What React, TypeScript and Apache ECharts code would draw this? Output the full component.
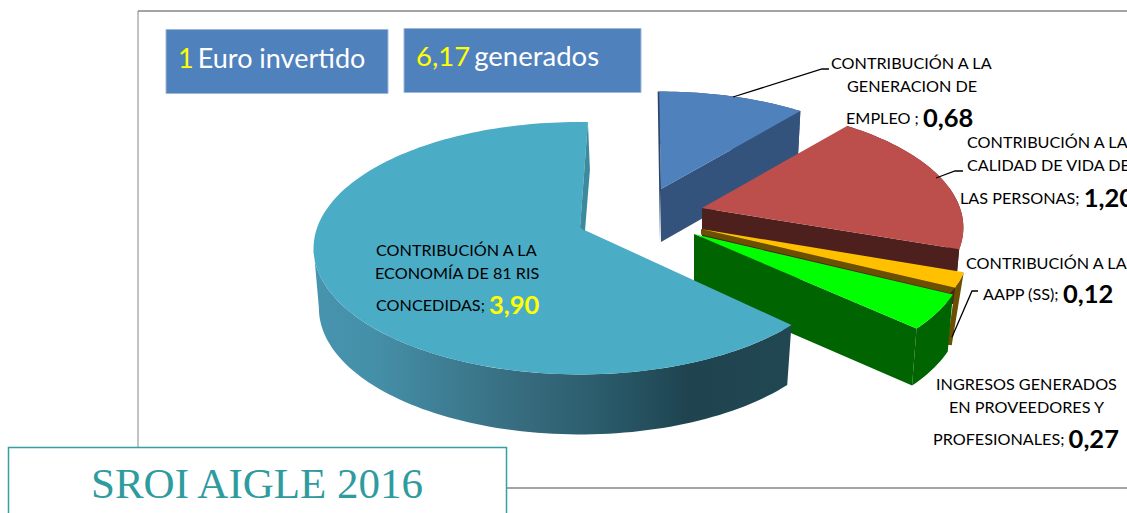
import React, { useEffect, useRef } from "react";
import * as echarts from "echarts";

const sliceNames = [
  "CONTRIBUCIÓN A LA GENERACION DE EMPLEO",
  "CONTRIBUCIÓN A LA CALIDAD DE VIDA DE LAS PERSONAS",
  "CONTRIBUCIÓN A LAS AAPP (SS)",
  "INGRESOS GENERADOS EN PROVEEDORES Y PROFESIONALES",
  "CONTRIBUCIÓN A LA ECONOMÍA DE 81 RIS CONCEDIDAS",
];
const sliceValues = [0.68, 1.2, 0.12, 0.27, 3.9];
const valueLabels = ["0,68", "1,20", "0,12", "0,27", "3,90"];
const plainLines = [
  ["CONTRIBUCIÓN A LA", "GENERACION DE"],
  ["CONTRIBUCIÓN A LA", "CALIDAD DE VIDA DE"],
  ["CONTRIBUCIÓN A LAS"],
  ["INGRESOS GENERADOS", "EN PROVEEDORES Y"],
  ["CONTRIBUCIÓN A LA", "ECONOMÍA DE 81 RIS"],
];
const lastLines = ["EMPLEO ; ", "LAS PERSONAS; ", "AAPP (SS); ", "PROFESIONALES; ", "CONCEDIDAS; "];
const titleText = "SROI AIGLE 2016";

const PERSPECTIVE = 0.16;
const FONT = "Lato";
const LABEL_SIZE = 16.2;
const VALUE_SIZE = 25.5;

// Per-slice look of the 3D pie (explosion centre, radii, rim colours)
const looks = [
  { cx: 661, cy: 189, rx: 248, ry: 113, depth: 53, rot: -0.5, top: "#4f81bd", wall: "#34537c", endWall: true, sliver: "#2c466a", sOff: [[-1.5, 0], [-1, 53]] },
  { cx: 702, cy: 208, rx: 258, ry: 119, depth: 55, rot: -0.5, top: "#bc4f4c", wall: "#4d1f1d", endWall: true },
  { cx: 701, cy: 229, rx: 264, ry: 121.5, depth: 5.5, rot: 0, top: "#ffc000", wall: "#6a5000", endWall: true, outerShift: [[-12, 73], [-8, 57]] },
  { cx: 694, cy: 234, rx: 269, ry: 125, depth: 57, rot: 0, top: "#00ff00", wall: "#006400", endWall: true },
  { cx: 580, cy: 228, rx: 263, ry: 123, depth: 60, rot: 2, wallEnd: 261, top: "#4bacc6", wall: "gradient", endWall: false, sliver: "#3d8a9f", sOff: [[2, 48], [5, 3]] },
];

const labelLayout = [
  { lines: [[831, 62], [847, 85]], last: [846, 117] },
  { lines: [[967, 141], [967, 164]], last: [960, 197] },
  { lines: [[966, 262]], last: [983, 293] },
  { lines: [[936, 383], [949, 406]], last: [933, 438] },
  { lines: [[376, 249], [375, 272]], last: [376, 304] },
];

function project(s: any, deg: number, r: number, z: number) {
  const th = (deg * Math.PI) / 180;
  const c = Math.cos(th);
  const k = 1 / (1 + PERSPECTIVE * c);
  const xs = z ? 0.98 : 1;
  return [s.cx + s.rx * Math.sin(th) * k * r * xs, s.cy - s.ry * c * k * r + z * s.depth];
}

function arc(s: any, a: number, b: number, z: number) {
  const n = Math.max(2, Math.ceil((b - a) / 1.5));
  const pts = [];
  for (let i = 0; i <= n; i++) pts.push(project(s, a + ((b - a) * i) / n, 1, z));
  return pts;
}

function renderSlice(params: any, api: any) {
  const i = params.dataIndex;
  const value = api.value(0);
  const total = sliceValues.reduce((a, b) => a + b, 0);
  const before = sliceValues.slice(0, i).reduce((a, b) => a + b, 0);
  const look: any = looks[i];
  const a = (before / total) * 360 + look.rot;
  const b = a + (value / total) * 360;
  const wallFill =
    look.wall === "gradient"
      ? new echarts.graphic.LinearGradient(0, 0, 1, 0, [
          { offset: 0, color: "#4794ae" },
          { offset: 0.12, color: "#4590a9" },
          { offset: 0.45, color: "#366a7c" },
          { offset: 0.6, color: "#2a5c6c" },
          { offset: 0.78, color: "#1f4450" },
          { offset: 1, color: "#214752" },
        ])
      : look.wall;
  const children: any[] = [];
  const poly = (points: number[][], fill: any) =>
    children.push({ type: "polygon", shape: { points }, style: { fill, stroke: "none" } });
  const V = project(look, 0, 0, 0);
  if (look.outerShift) {
    const top = arc(look, a, b, 0);
    const s0 = look.outerShift[0];
    const s1 = look.outerShift[1];
    const first = top[0];
    const last = top[top.length - 1];
    poly([...top, [last[0] + s1[0], last[1] + s1[1]], [first[0] + s0[0], first[1] + s0[1]]], wallFill);
  } else {
    const wallStop = look.wallEnd ?? b;
    poly([...arc(look, a, wallStop, 0), ...arc(look, a, wallStop, 1).reverse()], wallFill);
  }
  if (look.endWall) {
    const P = project(look, b, 1, 0);
    const Pb = project(look, b, 1, 1);
    poly([V, P, Pb, project(look, 0, 0, 1)], look.wall);
  }
  poly([V, ...arc(look, a, b, 0)], look.top);
  if (look.sliver) {
    const P = project(look, look.sOff[0][1] === 0 ? a : b, 1, 0);
    poly([P, [P[0] + look.sOff[0][0], P[1] + look.sOff[0][1]], [V[0] + look.sOff[1][0], V[1] + look.sOff[1][1]], V], look.sliver);
  }
  return { type: "group", children };
}

function textEl(x: number, y: number, text: string, extra: any = {}) {
  return {
    type: "text",
    x,
    y,
    z: 10,
    style: {
      text,
      fill: "#000000",
      fontFamily: FONT,
      fontSize: LABEL_SIZE,
      verticalAlign: "middle",
      ...extra,
    },
  };
}

function buildGraphic() {
  const els: any[] = [];
  const gray = "#868686";
  els.push({ type: "line", z: 1, shape: { x1: 138, y1: 11, x2: 1127, y2: 11 }, style: { stroke: gray, lineWidth: 1.5 } });
  els.push({ type: "line", z: 1, shape: { x1: 138, y1: 11, x2: 138, y2: 450 }, style: { stroke: gray, lineWidth: 1 } });
  els.push({ type: "line", z: 1, shape: { x1: 507, y1: 488, x2: 1127, y2: 488 }, style: { stroke: gray, lineWidth: 1.5 } });
  // Header boxes
  const boxStroke = "#9db8d9";
  els.push({ type: "rect", z: 5, shape: { x: 166, y: 29.5, width: 222, height: 64 }, style: { fill: "#4f81bd", stroke: boxStroke, lineWidth: 1 } });
  els.push({ type: "rect", z: 5, shape: { x: 404, y: 28.5, width: 237, height: 64 }, style: { fill: "#4f81bd", stroke: boxStroke, lineWidth: 1 } });
  const rich = (size: number, color: string, weight = "normal") => ({ fontFamily: FONT, fontSize: size, fill: color, fontWeight: weight });
  els.push(textEl(178, 57, "{y|1} {w|Euro invertido}", { rich: { y: rich(27, "#ffff00"), w: rich(27, "#ffffff") } }));
  els.push(textEl(416, 55, "{y|6,17} {w|generados}", { rich: { y: rich(27.5, "#ffff00"), w: rich(27.5, "#ffffff") } }));
  // Labels
  labelLayout.forEach((l, i) => {
    plainLines[i].forEach((t, j) => els.push(textEl(l.lines[j][0], l.lines[j][1], t)));
    const valColor = i === 4 ? "#ffff00" : "#000000";
    els.push(
      textEl(l.last[0], l.last[1], `{p|${lastLines[i]}}{v|${valueLabels[i]}}`, {
        rich: { p: rich(LABEL_SIZE, "#000000"), v: rich(VALUE_SIZE, valColor, "bold") },
      })
    );
  });
  // Leader lines
  [
    [[733, 97], [822, 69], [829, 69]],
    [[936, 178], [955, 171], [963, 171]],
    [[952, 337], [972, 291], [978, 291]],
  ].forEach((points) =>
    els.push({ type: "polyline", z: 11, shape: { points }, style: { stroke: "#000000", lineWidth: 1.3, fill: "none" } })
  );
  // Title box
  els.push({ type: "rect", z: 20, shape: { x: 8.5, y: 447.5, width: 498, height: 80 }, style: { fill: "#ffffff", stroke: "#35a0a4", lineWidth: 1.5 } });
  els.push({
    type: "text",
    z: 21,
    x: 91,
    y: 483,
    style: { text: titleText, fontFamily: "Liberation Serif", fontSize: 43, fill: "#2e9b9f", verticalAlign: "middle" },
  });
  return els;
}

export default function App() {
  const ref = useRef<HTMLDivElement>(null);
  useEffect(() => {
    document.body.style.margin = "0";
    const chart = echarts.init(ref.current!, undefined, { renderer: "svg" });
    chart.setOption({
      animation: false,
      backgroundColor: "#ffffff",
      graphic: { elements: buildGraphic() },
      series: [
        {
          type: "custom",
          coordinateSystem: "none",
          z: 3,
          silent: true,
          renderItem: renderSlice,
          data: sliceValues.map((v, i) => ({ name: sliceNames[i], value: [v] })),
        },
      ],
    });
    return () => chart.dispose();
  }, []);
  return <div ref={ref} style={{ position: "absolute", left: 0, top: 0, width: 1127, height: 513, overflow: "hidden" }} />;
}
